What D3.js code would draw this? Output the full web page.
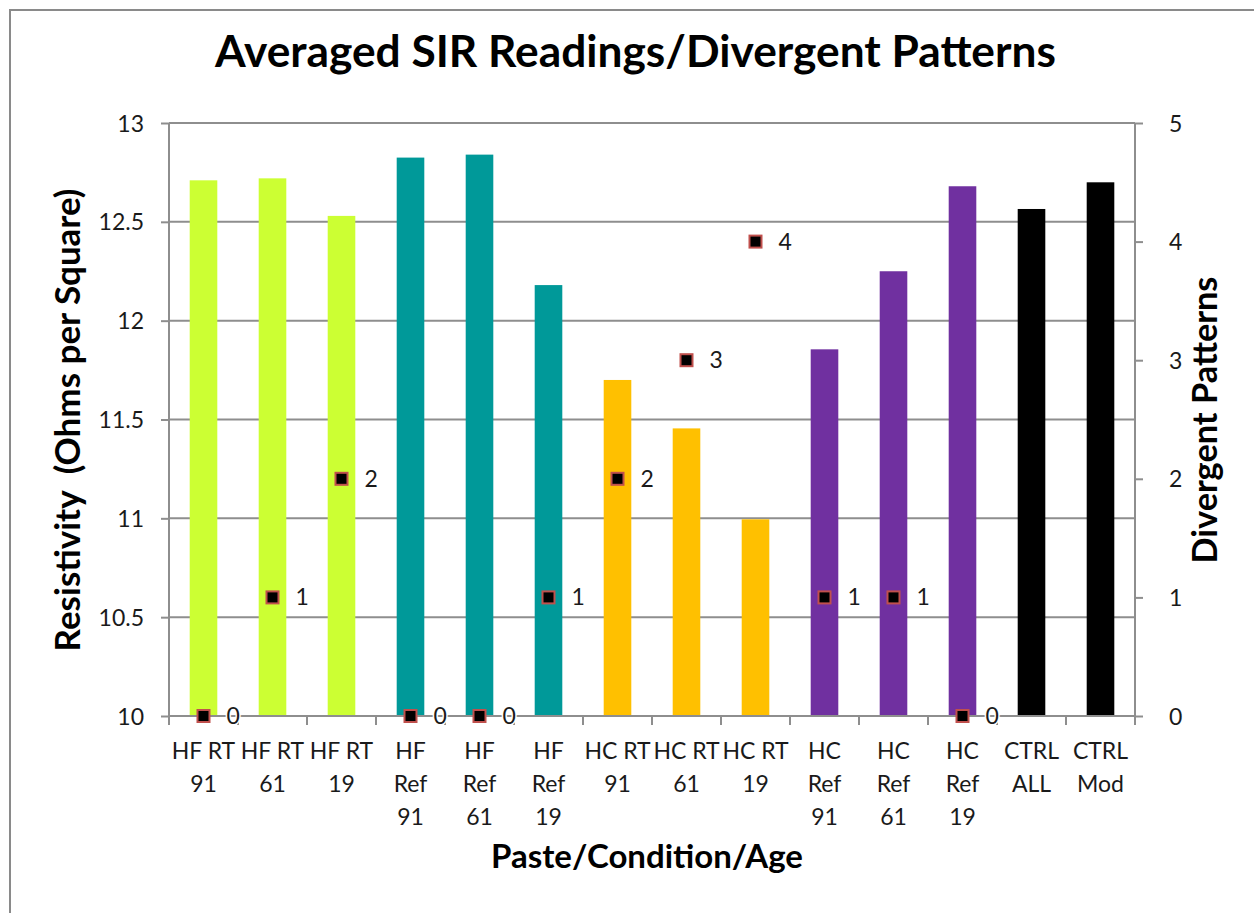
<!DOCTYPE html>
<html>
<head>
<meta charset="utf-8">
<script src="https://cdn.jsdelivr.net/npm/d3@7/dist/d3.min.js"></script>
<style>
  html, body { margin: 0; padding: 0; background: #fff; }
  svg { display: block; font-family: Lato, "Open Sans", sans-serif; }
</style>
</head>
<body>
<svg id="chart" width="1254" height="913"></svg>
<script>
// ---- data ----
const categories = ["HF RT 91","HF RT 61","HF RT 19","HF Ref 91","HF Ref 61","HF Ref 19",
  "HC RT 91","HC RT 61","HC RT 19","HC Ref 91","HC Ref 61","HC Ref 19","CTRL ALL","CTRL Mod"];
const tickLabels = [["HF RT","91"],["HF RT","61"],["HF RT","19"],["HF","Ref","91"],["HF","Ref","61"],["HF","Ref","19"],
  ["HC RT","91"],["HC RT","61"],["HC RT","19"],["HC","Ref","91"],["HC","Ref","61"],["HC","Ref","19"],["CTRL","ALL"],["CTRL","Mod"]];
const resistivity = [12.71, 12.72, 12.53, 12.825, 12.84, 12.18, 11.70, 11.455, 10.995, 11.855, 12.25, 12.68, 12.565, 12.70];
const divergent = [0, 1, 2, 0, 0, 1, 2, 3, 4, 1, 1, 0, null, null];
const barColors = ["#ccff33","#ccff33","#ccff33","#009999","#009999","#009999",
  "#ffc000","#ffc000","#ffc000","#7030a0","#7030a0","#7030a0","#000000","#000000"];
const leftTicks = [10, 10.5, 11, 11.5, 12, 12.5, 13];
const rightTicks = [0, 1, 2, 3, 4, 5];
const titleText = "Averaged SIR Readings/Divergent Patterns";
const xTitleText = "Paste/Condition/Age";
const yTitleText = "Resistivity  (Ohms per Square)";
const y2TitleText = "Divergent Patterns";

// ---- layout ----
const svg = d3.select("#chart");
const L = 169, R = 1135, T = 123, B = 716;
const gridColor = "#8e8e8e";
const textColor = "#1a1a1a";
const fs = 23;

svg.append("rect").attr("x", 10).attr("y", 10).attr("width", 1300).attr("height", 1000)
  .attr("fill", "#fff").attr("stroke", "#8a8a8a").attr("stroke-width", 2);

const x = d3.scaleBand().domain(categories).range([L, R]).paddingInner(0.6).paddingOuter(0.3);
const y = d3.scaleLinear().domain([10, 13]).range([B, T]);
const y2 = d3.scaleLinear().domain([0, 5]).range([B, T]);

// gridlines
svg.append("g").selectAll("line").data(leftTicks.slice(1)).join("line")
  .attr("x1", L).attr("x2", R).attr("y1", d => y(d)).attr("y2", d => y(d))
  .attr("stroke", gridColor).attr("stroke-width", 2);

// left axis
const gL = svg.append("g").attr("transform", `translate(${L},0)`)
  .call(d3.axisLeft(y).tickValues(leftTicks).tickSize(8).tickPadding(17).tickFormat(d => d3.format("")(d)));
// right axis
const gR = svg.append("g").attr("transform", `translate(${R},0)`)
  .call(d3.axisRight(y2).tickValues(rightTicks).tickSize(8).tickPadding(26).tickFormat(d3.format("d")));
[gL, gR].forEach(g => {
  g.select(".domain").attr("stroke", gridColor).attr("stroke-width", 2)
    .attr("d", `M0,${T}V${B}`);
  g.selectAll(".tick line").attr("stroke", gridColor).attr("stroke-width", 2);
  g.selectAll(".tick text").attr("fill", textColor).attr("font-size", fs)
    .attr("font-family", "Lato, sans-serif").attr("dy", "0.35em");
});

// bars
svg.append("g").selectAll("rect").data(categories).join("rect")
  .attr("x", d => x(d)).attr("width", x.bandwidth())
  .attr("y", (d, i) => y(resistivity[i]))
  .attr("height", (d, i) => y(10) - y(resistivity[i]))
  .attr("fill", (d, i) => barColors[i]);

// bottom axis
const step = x.step();
const gB = svg.append("g").attr("transform", `translate(0,${B})`);
gB.append("line").attr("x1", L).attr("x2", R).attr("stroke", gridColor).attr("stroke-width", 2);
gB.selectAll("line.tk").data(d3.range(categories.length + 1)).join("line").attr("class", "tk")
  .attr("x1", i => L + i * step).attr("x2", i => L + i * step).attr("y1", 0).attr("y2", 9)
  .attr("stroke", gridColor).attr("stroke-width", 2);
const lbl = gB.selectAll("text.cat").data(categories).join("text").attr("class", "cat")
  .attr("text-anchor", "middle").attr("font-size", fs).attr("fill", textColor)
  .attr("transform", d => `translate(${x(d) + x.bandwidth() / 2},0)`);
lbl.each(function (d, i) {
  const t = d3.select(this);
  tickLabels[i].forEach((line, j) => {
    t.append("tspan").attr("x", 0).attr("y", 43 + j * 33).text(line);
  });
});

// divergent markers
const pts = categories.map((c, i) => ({ c, v: divergent[i] })).filter(p => p.v !== null);
const gm = svg.append("g");
gm.selectAll("rect").data(pts).join("rect")
  .attr("x", p => x(p.c) + x.bandwidth() / 2 - 6).attr("y", p => y2(p.v) - 6)
  .attr("width", 12).attr("height", 12)
  .attr("fill", "#000").attr("stroke", "#c0504d").attr("stroke-width", 2);
gm.selectAll("text").data(pts).join("text")
  .attr("x", p => x(p.c) + x.bandwidth() / 2 + 23).attr("y", p => y2(p.v))
  .attr("dy", "0.35em").attr("font-size", fs).attr("fill", textColor)
  .attr("stroke", "#fff").attr("stroke-width", 3).attr("paint-order", "stroke")
  .text(p => p.v);

// titles, sized to match target widths
function fitText(sel, target, base) {
  sel.attr("font-size", base);
  const w = sel.node().getComputedTextLength();
  sel.attr("font-size", base * target / w);
}
const title = svg.append("text").attr("x", 635.5).attr("y", 67).attr("text-anchor", "middle")
  .attr("font-weight", "bold").attr("fill", "#000").text(titleText);
fitText(title, 841, 36);

const xt = svg.append("text").attr("x", 647).attr("y", 868).attr("text-anchor", "middle")
  .attr("font-weight", "bold").attr("fill", "#000").text(xTitleText);
fitText(xt, 312, 25);

const yt = svg.append("text").attr("transform", "translate(80,420) rotate(-90)")
  .attr("text-anchor", "middle").attr("font-weight", "bold").attr("fill", "#000")
  .style("white-space", "pre").text(yTitleText);
fitText(yt, 463, 25);

const y2t = svg.append("text").attr("transform", "translate(1217,420) rotate(-90)")
  .attr("text-anchor", "middle").attr("font-weight", "bold").attr("fill", "#000").text(y2TitleText);
fitText(y2t, 287, 25);
</script>
</body>
</html>
